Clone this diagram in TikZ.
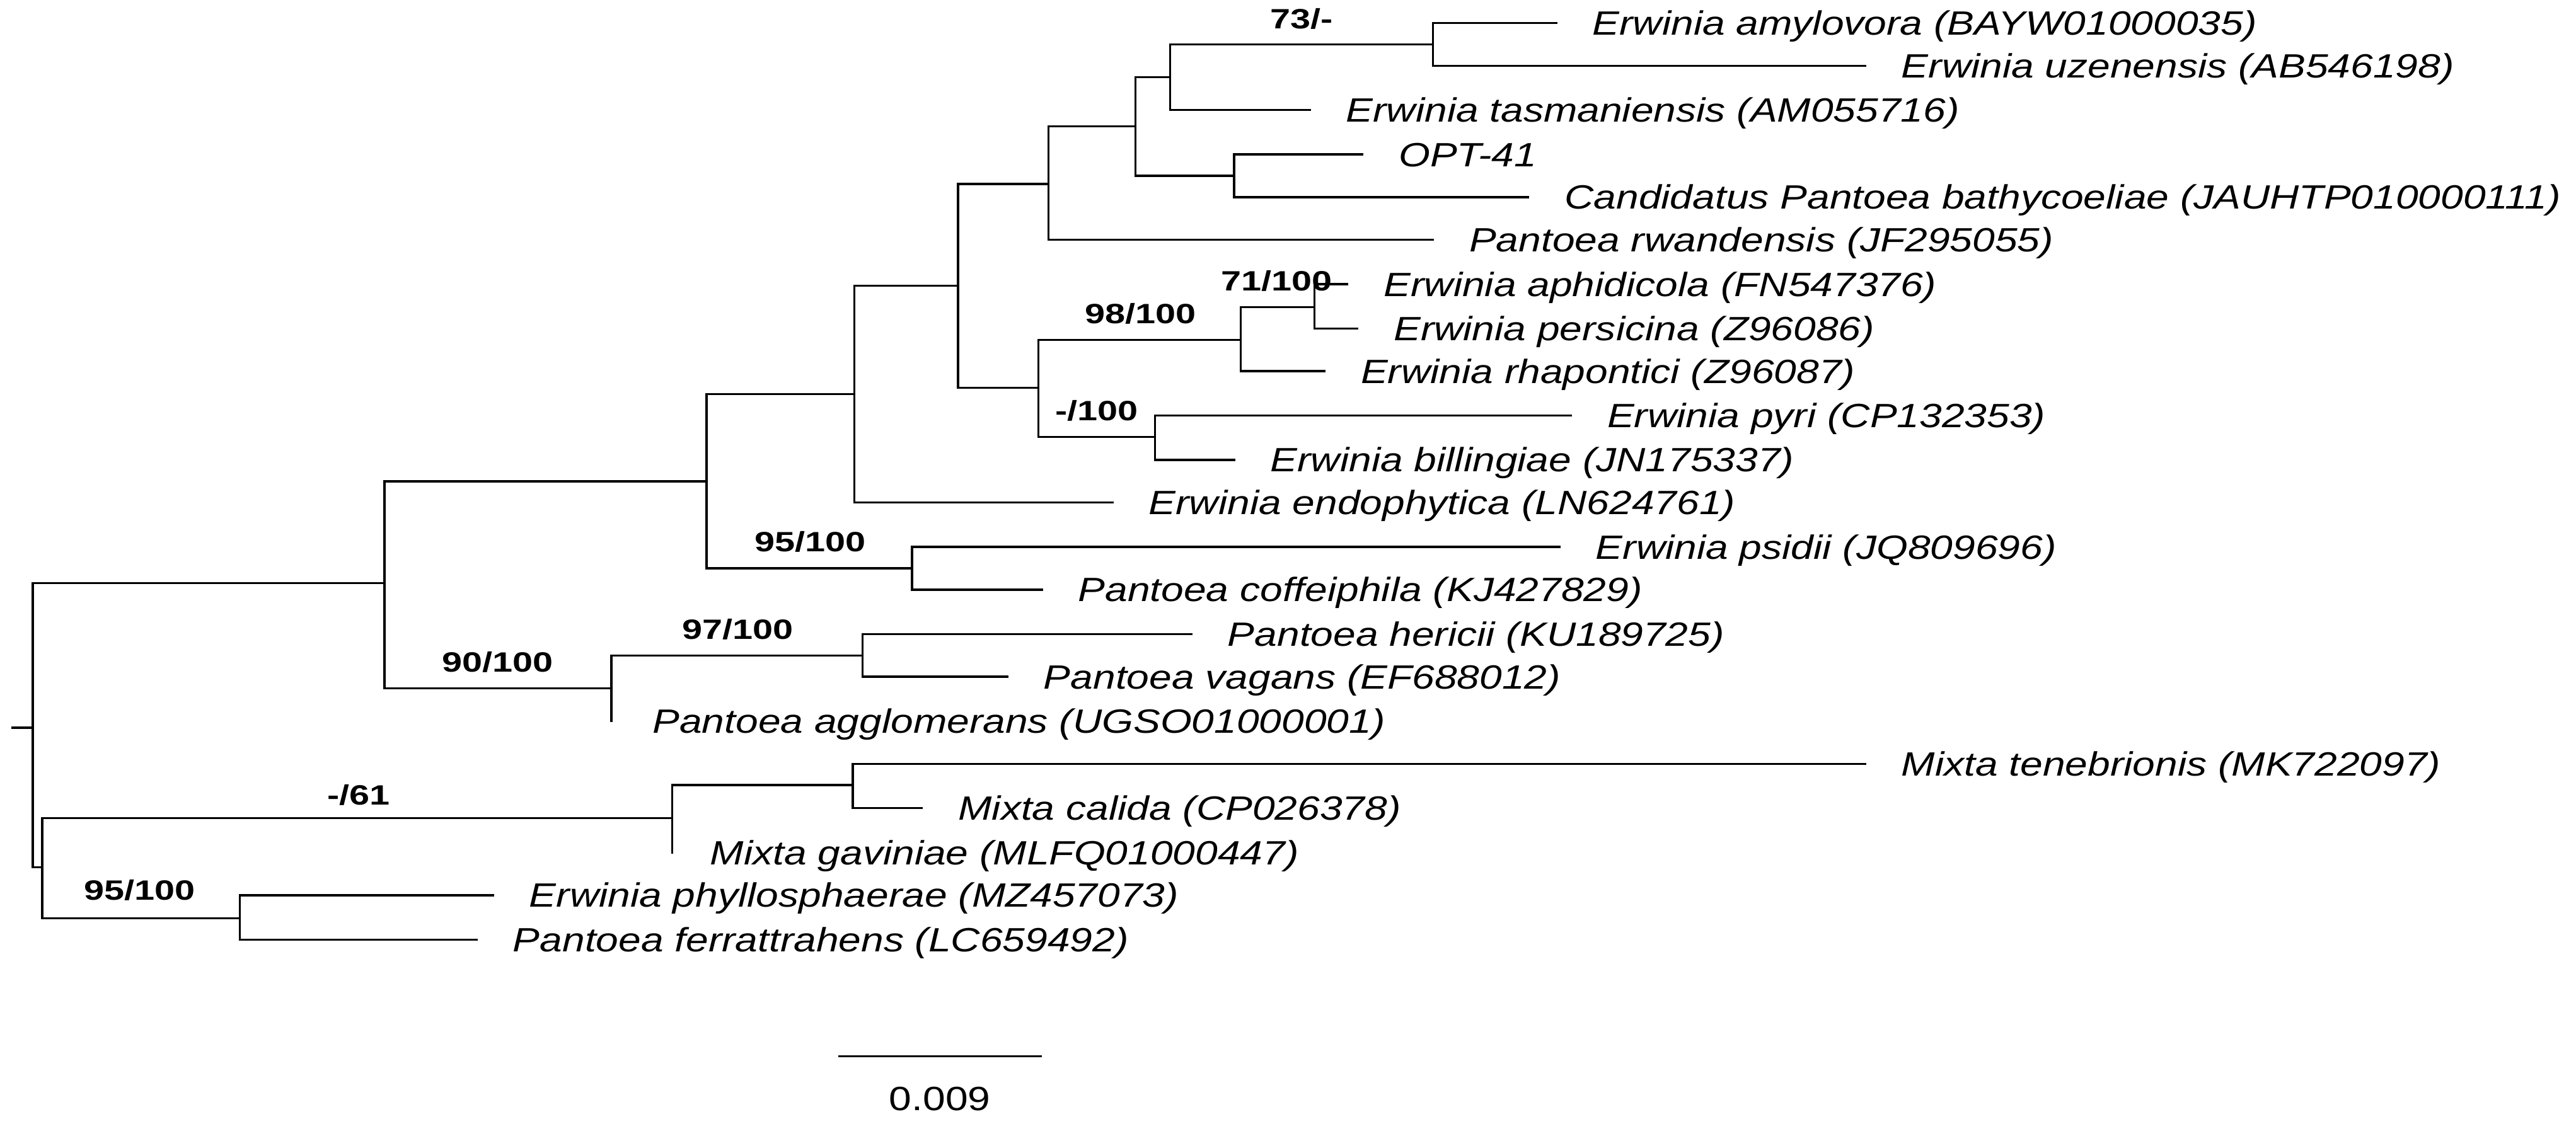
\documentclass[tikz,border=0pt]{standalone}
\usepackage{fontspec}
\setmainfont{Liberation Sans}[FakeStretch=1.2]
\newfontfamily\bsfont{Liberation Sans}[FakeStretch=1.3]
\begin{document}
\begin{tikzpicture}[x=1pt,y=-1pt,
  br/.style={line width=1.3pt,line cap=rect},
  leaf/.style={anchor=base west,inner sep=0pt,xshift=22pt,yshift=-7.3pt,font=\fontsize{20.5}{24}\selectfont\itshape},
  boot/.style={anchor=west,inner sep=0pt,font=\bsfont\bfseries\fontsize{17}{20}\selectfont}]
\useasboundingbox (0,0) rectangle (1567.7,684.3);
% internal nodes
\coordinate (rt) at (7.7,443); \coordinate (R0) at (20,443);
\coordinate (A) at (234,355); \coordinate (B) at (430,293); \coordinate (C) at (520,240);
\coordinate (D) at (583,174); \coordinate (E) at (638,112); \coordinate (G) at (691,77);
\coordinate (H) at (712,47); \coordinate (J) at (872,27); \coordinate (I) at (751,107);
\coordinate (F) at (632,236); \coordinate (K) at (755,207); \coordinate (M) at (800,187);
\coordinate (L) at (703,266); \coordinate (N) at (555,346); \coordinate (O) at (372,419);
\coordinate (P) at (525,399); \coordinate (Q) at (25.7,528); \coordinate (R) at (409,498);
\coordinate (T) at (519,478); \coordinate (S) at (146,559);
% leaf ends
\coordinate (amyl) at (947,14); \coordinate (uzen) at (1135,40); \coordinate (tasm) at (797,67);
\coordinate (opt) at (829,94); \coordinate (cand) at (930,120); \coordinate (rwan) at (872,146);
\coordinate (aphi) at (820,173); \coordinate (pers) at (826,200); \coordinate (rhap) at (806,226);
\coordinate (pyri) at (956,253); \coordinate (bill) at (751,280); \coordinate (endo) at (677,306);
\coordinate (psid) at (949,333); \coordinate (coff) at (634,359); \coordinate (heri) at (725,386);
\coordinate (vag) at (613,412); \coordinate (aggl) at (372,439); \coordinate (ten) at (1135,465);
\coordinate (cal) at (561,492); \coordinate (gav) at (409,519); \coordinate (phyl) at (300,545);
\coordinate (ferr) at (290,572);
% branches
\draw[br] (rt) -- (R0);
\draw[br] (R0) |- (A); \draw[br] (R0) |- (Q);
\draw[br] (A) |- (B); \draw[br] (A) |- (O);
\draw[br] (B) |- (C); \draw[br] (B) |- (N);
\draw[br] (C) |- (D); \draw[br] (C) |- (endo);
\draw[br] (D) |- (E); \draw[br] (D) |- (F);
\draw[br] (E) |- (G); \draw[br] (E) |- (rwan);
\draw[br] (G) |- (H); \draw[br] (G) |- (I);
\draw[br] (H) |- (J); \draw[br] (H) |- (tasm);
\draw[br] (J) |- (amyl); \draw[br] (J) |- (uzen);
\draw[br] (I) |- (opt); \draw[br] (I) |- (cand);
\draw[br] (F) |- (K); \draw[br] (F) |- (L);
\draw[br] (K) |- (M); \draw[br] (K) |- (rhap);
\draw[br] (M) |- (aphi); \draw[br] (M) |- (pers);
\draw[br] (L) |- (pyri); \draw[br] (L) |- (bill);
\draw[br] (N) |- (psid); \draw[br] (N) |- (coff);
\draw[br] (O) |- (P); \draw[br] (O) -- (aggl);
\draw[br] (P) |- (heri); \draw[br] (P) |- (vag);
\draw[br] (Q) |- (R); \draw[br] (Q) |- (S);
\draw[br] (R) |- (T); \draw[br] (R) -- (gav);
\draw[br] (T) |- (ten); \draw[br] (T) |- (cal);
\draw[br] (S) |- (phyl); \draw[br] (S) |- (ferr);
% leaf labels
\node[leaf] (lamyl) at (amyl) {Erwinia amylovora (BAYW01000035)};
\node[leaf] (luzen) at (uzen) {Erwinia uzenensis (AB546198)};
\node[leaf] (ltasm) at (tasm) {Erwinia tasmaniensis (AM055716)};
\node[leaf] (lopt) at (opt) {OPT-41};
\node[leaf] (lcand) at (cand) {Candidatus Pantoea bathycoeliae (JAUHTP010000111)};
\node[leaf] (lrwan) at (rwan) {Pantoea rwandensis (JF295055)};
\node[leaf] (laphi) at (aphi) {Erwinia aphidicola (FN547376)};
\node[leaf] (lpers) at (pers) {Erwinia persicina (Z96086)};
\node[leaf] (lrhap) at (rhap) {Erwinia rhapontici (Z96087)};
\node[leaf] (lpyri) at (pyri) {Erwinia pyri (CP132353)};
\node[leaf] (lbill) at (bill) {Erwinia billingiae (JN175337)};
\node[leaf] (lendo) at (endo) {Erwinia endophytica (LN624761)};
\node[leaf] (lpsid) at (psid) {Erwinia psidii (JQ809696)};
\node[leaf] (lcoff) at (coff) {Pantoea coffeiphila (KJ427829)};
\node[leaf] (lheri) at (heri) {Pantoea hericii (KU189725)};
\node[leaf] (lvag) at (vag) {Pantoea vagans (EF688012)};
\node[leaf,xshift=3pt] (laggl) at (aggl) {Pantoea agglomerans (UGSO01000001)};
\node[leaf] (lten) at (ten) {Mixta tenebrionis (MK722097)};
\node[leaf] (lcal) at (cal) {Mixta calida (CP026378)};
\node[leaf,xshift=1pt] (lgav) at (gav) {Mixta gaviniae (MLFQ01000447)};
\node[leaf] (lphyl) at (phyl) {Erwinia phyllosphaerae (MZ457073)};
\node[leaf] (lferr) at (ferr) {Pantoea ferrattrahens (LC659492)};
% bootstrap
\node[boot] (b1) at (773,11.5) {73/-};
\node[boot] (b2) at (743,171) {71/100};
\node[boot] (b3) at (660,191) {98/100};
\node[boot] (b4) at (642,250) {-/100};
\node[boot] (b5) at (459,330) {95/100};
\node[boot] (b6) at (415,383) {97/100};
\node[boot] (b7) at (269,403) {90/100};
\node[boot] (b8) at (199,484) {-/61};
\node[boot] (b9) at (51,542) {95/100};
% scale bar
\coordinate (s1) at (510,643); \coordinate (s2) at (634,643);
\draw[br,line cap=butt] (s1) -- (s2);
\node[inner sep=0pt,font=\fontsize{20.5}{24}\selectfont] (sl) at (572,669) {0.009};
\end{tikzpicture}
\end{document}
